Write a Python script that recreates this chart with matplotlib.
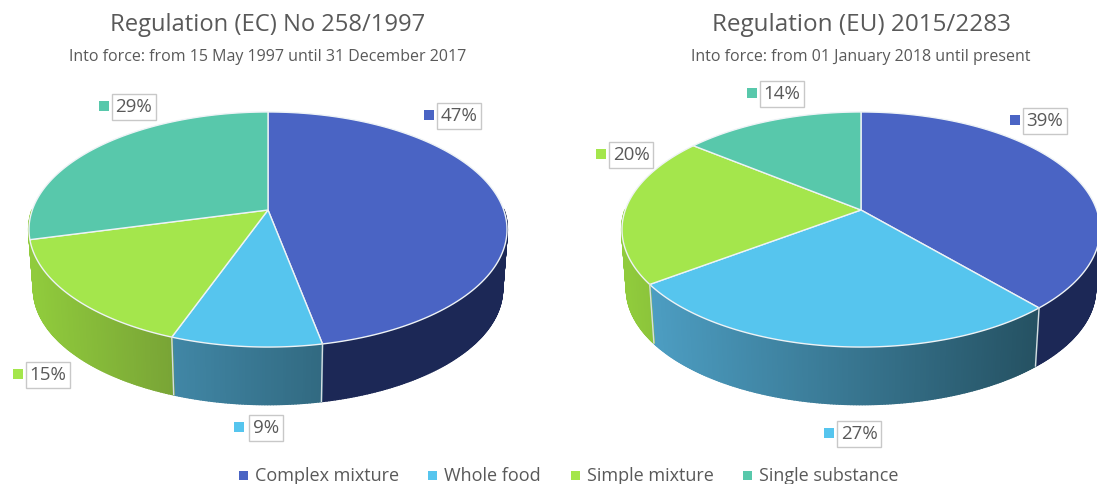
import numpy as np
import matplotlib
matplotlib.use('Agg')
from matplotlib import pyplot as plt
from matplotlib.collections import PolyCollection
from matplotlib.colors import to_rgb
from matplotlib.patches import Polygon, Rectangle

categories = ['Complex mixture', 'Whole food', 'Simple mixture', 'Single substance']
# slice sizes, the printed labels are rounded
ec_values = [46.9, 8.7, 15.4, 29.0]
eu_values = [38.5, 26.5, 20.65, 14.35]
ec_labels = ['47%', '9%', '15%', '29%']
eu_labels = ['39%', '27%', '20%', '14%']

top_colors = ['#4a64c4', '#56c5ee', '#a4e64c', '#58c8ab']
side_left = ['#1c2856', '#4fa2c8', '#90cb3c', '#90cb3c']
side_right = ['#1c2856', '#1f4654', '#414727', '#90cb3c']
text_color = '#595959'

plt.rcParams['font.family'] = ['Open Sans', 'DejaVu Sans']

R = 235.7
C = 114.3
K = 0.166
DEPTH = 60
SHRINK = 0.98


def project(cx, cy, angle, r=1.0):
    # angle is clockwise from the top, perspective tilted disc
    x = r * np.sin(angle)
    y = r * np.cos(angle)
    w = 1 + K * y
    return cx + R * x / w, cy - C * y / w


def project_bottom(cx, cy, angle):
    px, py = project(cx, cy, angle)
    return cx + (px - cx) * SHRINK, cy + (py - cy) * SHRINK + DEPTH


def draw_pie(ax, cx, cy, values):
    total = sum(values)
    start = 0.0
    sides = []
    side_cols = []
    wedges = []
    for i, v in enumerate(values):
        end = start + 2 * np.pi * v / total
        wedges.append((i, start, end))
        # walls, only the part facing us
        a = np.linspace(start, end, int(v * 6) + 2)
        for a0, a1 in zip(a[:-1], a[1:]):
            am = (a0 + a1) / 2
            if np.pi / 2 < am < 3 * np.pi / 2:
                x0, y0 = project(cx, cy, a0)
                x1, y1 = project(cx, cy, a1)
                x2, y2 = project_bottom(cx, cy, a1)
                x3, y3 = project_bottom(cx, cy, a0)
                u = np.clip(((x0 + x1) / 2 - (cx - R)) / (2 * R), 0, 1)
                col = (1 - u) * np.array(to_rgb(side_left[i])) + u * np.array(to_rgb(side_right[i]))
                sides.append([(x0, y0), (x1, y1), (x2, y2), (x3, y3)])
                side_cols.append(col)
        start = end
    ax.add_collection(PolyCollection(sides, facecolors=side_cols, edgecolors=side_cols, linewidths=1.5, zorder=2))

    for i, a0, a1 in wedges:
        a = np.linspace(a0, a1, 120)
        px, py = project(cx, cy, a)
        pts = [(cx, cy)] + list(zip(px, py))
        ax.add_patch(Polygon(pts, closed=True, facecolor=top_colors[i], edgecolor='#eef3f6', linewidth=1.0, zorder=3))
        # divider down the wall
        if np.pi / 2 < a0 < 4.4:
            xa, ya = project(cx, cy, a0)
            xb, yb = project_bottom(cx, cy, a0)
            ax.plot([xa, xb], [ya, yb], color='#d5dde2', lw=1.0, zorder=4)


def data_label(ax, x, y, text, idx):
    # x, y is the centre of the text box
    ax.text(x, y, text, fontsize=13.5, color=text_color, ha='center', va='center', zorder=6,
            bbox=dict(boxstyle='square,pad=0.2', facecolor='white', edgecolor='#c8c8c8', linewidth=1.0))
    w = len(text) * 6.0 + 12
    ax.add_patch(Rectangle((x - w / 2 - 20.5, y - 6), 10, 10, facecolor=top_colors[idx], edgecolor='none', zorder=6))


fig = plt.figure(figsize=(10.97, 4.84), dpi=100)
ax = fig.add_axes([0, 0, 1, 1])
ax.set_xlim(0, 1097)
ax.set_ylim(484, 0)
ax.axis('off')

draw_pie(ax, 268, 210, ec_values)
draw_pie(ax, 861, 210, eu_values)

ax.text(268, 25, 'Regulation (EC) No 258/1997', fontsize=17.1, color=text_color, ha='center', va='center')
ax.text(268, 57, 'Into force: from 15 May 1997 until 31 December 2017', fontsize=11.5, color=text_color, ha='center', va='center')
ax.text(861, 25, 'Regulation (EU) 2015/2283', fontsize=17.5, color=text_color, ha='center', va='center')
ax.text(861, 57, 'Into force: from 01 January 2018 until present', fontsize=11.5, color=text_color, ha='center', va='center')

data_label(ax, 459, 116, ec_labels[0], 0)
data_label(ax, 266, 428, ec_labels[1], 1)
data_label(ax, 48, 375, ec_labels[2], 2)
data_label(ax, 134, 107, ec_labels[3], 3)
data_label(ax, 1045, 121, eu_labels[0], 0)
data_label(ax, 859, 434, eu_labels[1], 1)
data_label(ax, 631, 155, eu_labels[2], 2)
data_label(ax, 782, 94, eu_labels[3], 3)

legend_x = [255, 444, 587, 759]
for name, col, x in zip(categories, top_colors, legend_x):
    ax.add_patch(Rectangle((x - 16, 471), 9, 9, facecolor=col, edgecolor='none'))
    ax.text(x, 476, name, fontsize=13, color=text_color, ha='left', va='center')

fig.savefig('out.png', dpi=100)
